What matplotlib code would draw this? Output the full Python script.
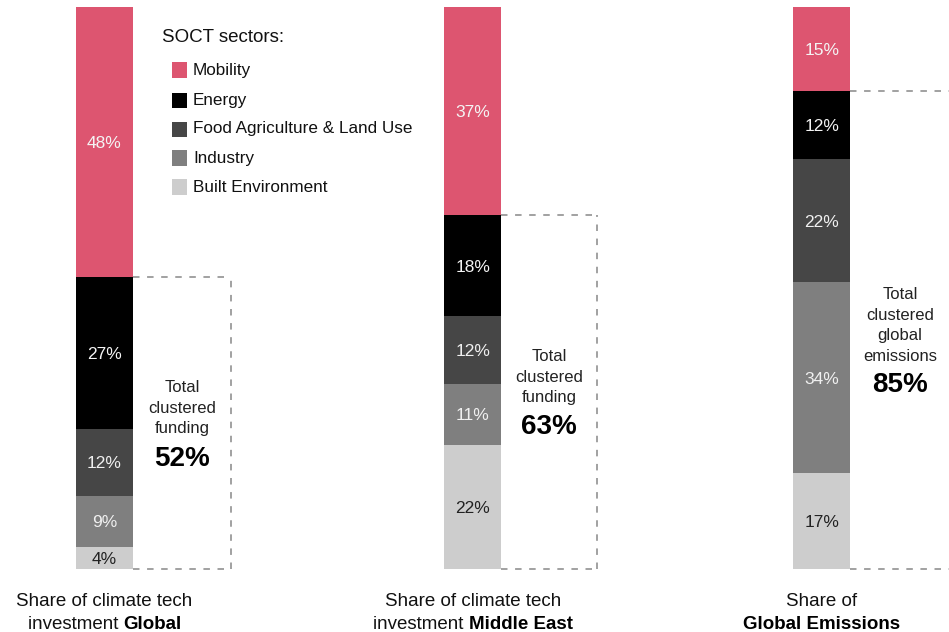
import matplotlib
matplotlib.use("Agg")
import matplotlib.pyplot as plt
import numpy as np

plt.rcParams['font.family'] = ['Liberation Sans', 'DejaVu Sans']

sectors = ["Mobility", "Energy", "Food Agriculture & Land Use", "Industry", "Built Environment"]
colors = ["#DD5570", "#000000", "#464646", "#7F7F7F", "#CDCDCD"]
label_colors = ["#F4F4F4", "#F4F4F4", "#F0F0F0", "#F0F0F0", "#222222"]

global_invest = [48, 27, 12, 9, 4]
me_invest = [37, 18, 12, 11, 22]
global_emis = [15, 12, 22, 34, 17]
series = [global_invest, me_invest, global_emis]

cluster_totals = ["52%", "63%", "85%"]
cluster_lines = [["Total", "clustered", "funding"],
                 ["Total", "clustered", "funding"],
                 ["Total", "clustered", "global", "emissions"]]
bottom_line1 = ["Share of climate tech", "Share of climate tech", "Share of"]
bottom_line2_reg = ["investment ", "investment ", ""]
bottom_line2_bold = ["Global", "Middle East", "Global Emissions"]

W, H = 949, 632
fig = plt.figure(figsize=(W / 100, H / 100), dpi=100)
ax = fig.add_axes([0, 0, 1, 1])
ppu = 5.62  # pixels per percent
ax.set_xlim(0, W)
ax.set_ylim(-63 / ppu, 100 + 7 / ppu)
ax.axis('off')

centers = [104.5, 473, 822]
bar_w = 57
box_right = [231, 597, 960]
text_x = [182, 549, 900]
first_line_off = [-35, -35, -35.5]   # px relative to box middle
line_gap = 20.5                     # px
total_gap = [30, 29, 29]            # px below last line

def px(p):
    return p / ppu

for i, vals in enumerate(series):
    bottom = 100.0
    for j, v in enumerate(vals):
        bottom -= v
        ax.bar(centers[i], v, bottom=bottom, width=bar_w, color=colors[j],
               edgecolor='none', linewidth=0)
        ax.text(centers[i], bottom + v / 2 - px(1.5), f"{v}%", ha='center', va='center',
                color=label_colors[j], fontsize=12.5)
    # dashed box around the clustered sectors (all except mobility)
    top = 100 - vals[0]
    x0 = centers[i] + bar_w / 2
    x1 = box_right[i]
    ls = dict(color='#9a9a9a', lw=1.3, linestyle=(0, (3.6, 4.2)))
    ax.plot([x0, x1], [top, top], **ls)
    ax.plot([x0, x1], [0, 0], **ls)
    ax.plot([x1, x1], [0, top], **ls)

    # cluster text
    mid = top / 2
    y = mid - px(first_line_off[i])
    for k, line in enumerate(cluster_lines[i]):
        ax.text(text_x[i], y - px(k * line_gap), line, ha='center', va='center',
                fontsize=12, color='#222222')
    ylast = y - px((len(cluster_lines[i]) - 1) * line_gap)
    ax.text(text_x[i], ylast - px(total_gap[i]), cluster_totals[i], ha='center', va='center',
            fontsize=20, fontweight='bold', color='#000000')

# legend
ax.text(162, 100 - px(37 - 7), "SOCT sectors:", ha='left', va='center', fontsize=13.5,
        color='#111111')
leg_y = [70, 100, 129, 158, 187]
for j, s in enumerate(sectors):
    yc = 100 - px(leg_y[j] - 7)
    ax.add_patch(plt.Rectangle((172, yc - px(7.5)), 15, px(15), color=colors[j], lw=0))
    ax.text(193, yc, s, ha='left', va='center', fontsize=12.3, color='#111111')

# bottom labels
fig.canvas.draw()
r = fig.canvas.get_renderer()
for i in range(3):
    y1 = -px(602 - 569)
    y2 = -px(624.5 - 569)
    ax.text(centers[i], y1, bottom_line1[i], ha='center', va='center', fontsize=13.5,
            color='#111111')
    t_reg = ax.text(0, y2, bottom_line2_reg[i], ha='left', va='center', fontsize=13.5,
                    color='#111111')
    t_bold = ax.text(0, y2, bottom_line2_bold[i], ha='left', va='center', fontsize=13.5,
                     fontweight='bold', color='#000000')
    wr = t_reg.get_window_extent(r).width if bottom_line2_reg[i] else 0
    wb = t_bold.get_window_extent(r).width
    total = wr + wb
    start = centers[i] - total / 2
    t_reg.set_x(start)
    t_bold.set_x(start + wr)

fig.savefig("out.png", dpi=100)
